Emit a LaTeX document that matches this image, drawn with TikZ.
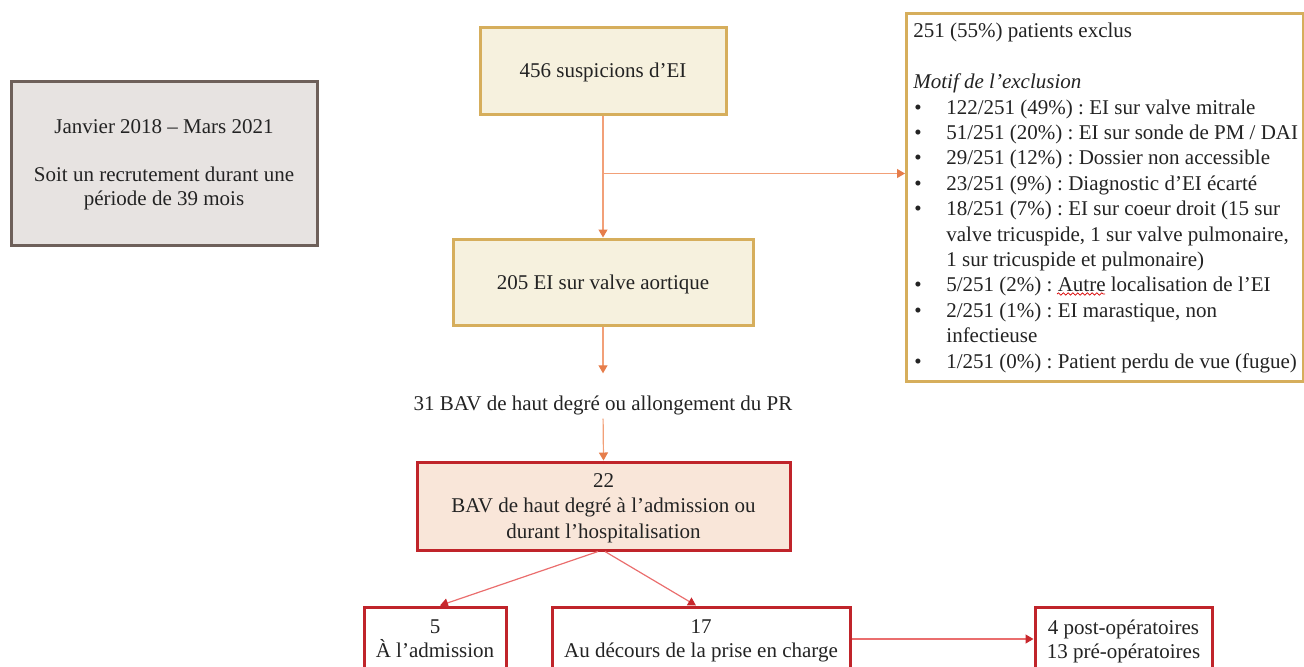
\documentclass[tikz,border=0pt]{standalone}
\usepackage{fontspec}
\setmainfont{Liberation Serif}
\usetikzlibrary{arrows.meta,decorations.pathmorphing}
\definecolor{gold}{RGB}{214,174,92}
\definecolor{cream}{RGB}{246,241,222}
\definecolor{grayfill}{RGB}{231,227,225}
\definecolor{grayline}{RGB}{110,96,90}
\definecolor{redline}{RGB}{192,36,42}
\definecolor{pinkfill}{RGB}{249,230,217}
\definecolor{orangeline}{RGB}{242,160,120}
\definecolor{orangetip}{RGB}{230,125,75}
\definecolor{redarrow}{RGB}{234,110,110}
\definecolor{redtip}{RGB}{200,40,45}
\definecolor{txt}{RGB}{35,35,35}
\newcommand{\bul}{\makebox[16.5pt][l]{\hspace{0.5pt}\textbullet}}
\newcommand{\ind}{\hspace*{16.5pt}}
\frenchspacing
\begin{document}
\begin{tikzpicture}[x=0.5pt,y=-0.5pt,
  every node/.style={font=\fontsize{10.5}{12.7}\selectfont, text=txt},
  graybox/.style={draw=grayline, line width=1.5pt, fill=grayfill, align=center, inner sep=0, text depth=0pt, font=\fontsize{10.5}{12}\selectfont},
  goldbox/.style={draw=gold, line width=1.5pt, fill=cream, align=center, inner sep=0, text depth=0pt},
  redbox/.style={draw=redline, line width=1.5pt, fill=white, align=center, inner sep=0, text depth=0pt},
  oarrow/.style={draw=orangeline, line width=0.6pt, -{Triangle[length=4pt,width=4.5pt,color=orangetip]}},
  rarrow/.style={draw=redarrow, line width=0.6pt, -{Triangle[length=4pt,width=4.5pt,color=redtip]}}]
\useasboundingbox (0,0) rectangle (1304,666);
\clip (0,0) rectangle (1304,666);

\node[graybox, minimum width=153pt, minimum height=82pt] (period) at (164,163)
  {Janvier 2018 – Mars 2021\\[12pt]Soit un recrutement durant une\\période de 39 mois};

\node[goldbox, minimum width=123pt, minimum height=43.5pt] (susp) at (603,70.5) {456 suspicions d’EI};
\node[goldbox, minimum width=150pt, minimum height=43pt] (aort) at (603,282) {205 EI sur valve aortique};

\node[draw=gold, line width=1.5pt, fill=white, anchor=north west, minimum width=198.5pt, minimum height=184pt, inner sep=0] (excl) at (905,12) {};
\node[anchor=north west, align=left, inner sep=0] (excltxt) at (913,23) {%
251 (55\%) patients exclus\\[12.7pt]
\textit{Motif de l’exclusion}\\
\bul 122/251 (49\%) : EI sur valve mitrale\\
\bul 51/251 (20\%) : EI sur sonde de PM / DAI\\
\bul 29/251 (12\%) : Dossier non accessible\\
\bul 23/251 (9\%) : Diagnostic d’EI écarté\\
\bul 18/251 (7\%) : EI sur coeur droit (15 sur\\
\ind valve tricuspide, 1 sur valve pulmonaire,\\
\ind 1 sur tricuspide et pulmonaire)\\
\bul 5/251 (2\%) : Autre localisation de l’EI\\
\bul 2/251 (1\%) : EI marastique, non\\
\ind infectieuse\\
\bul 1/251 (0\%) : Patient perdu de vue (fugue)};
\draw[red!85!black, line width=0.35pt, decorate, decoration={snake, amplitude=0.6pt, segment length=2.4pt}] (1057,294) -- (1105,294);

\node[inner sep=0, text depth=0pt] (bav) at (603,403) {31 BAV de haut degré ou allongement du PR};

\node[redbox, fill=pinkfill, minimum width=186.5pt, minimum height=44pt] (bav22) at (603.5,506)
  {22\\BAV de haut degré à l’admission ou\\durant l’hospitalisation};

\node[redbox, minimum width=71pt, minimum height=32pt, font=\fontsize{10.5}{12}\selectfont] (adm) at (435,639) {5\\À l’admission};
\node[redbox, minimum width=149pt, minimum height=32pt, font=\fontsize{10.5}{12}\selectfont] (during) at (701,639) {17\\Au décours de la prise en charge};
\node[redbox, minimum width=88.5pt, minimum height=32pt, font=\fontsize{10.5}{12}\selectfont] (prepost) at (1123.5,639) {4 post-opératoires\\13 pré-opératoires};

\draw[oarrow] (susp.south) -- (aort.north);
\path (susp.south) ++(0,58) coordinate (branch);
\draw[oarrow] (branch) -- (branch -| excl.west);
\draw[oarrow, shorten >=11pt] (aort.south) -- (bav.north);
\draw[oarrow, shorten <=4pt] (bav.south) -- (bav22.north);

\draw[rarrow] ([xshift=-2.75pt]bav22.south) -- ([xshift=2.5pt]adm.north);
\draw[rarrow] ([xshift=0.75pt]bav22.south) -- ([xshift=-2.5pt]during.north);
\draw[rarrow] (during.east) -- (prepost.west);
\end{tikzpicture}
\end{document}
